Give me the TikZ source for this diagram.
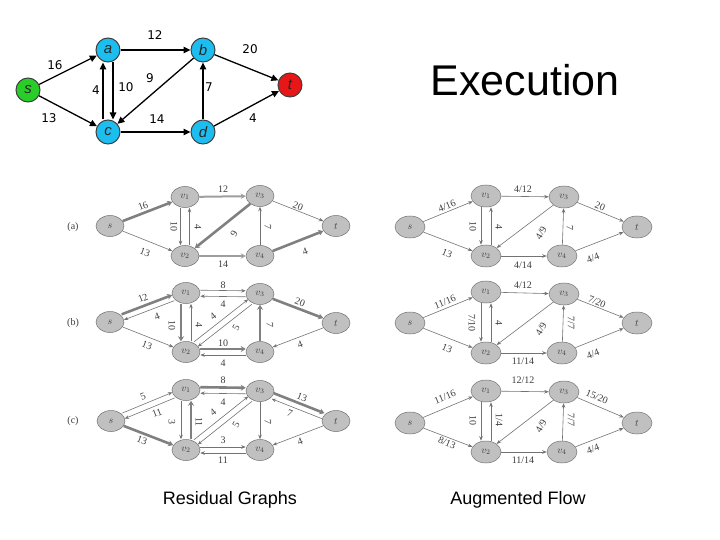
\documentclass[tikz,border=0pt]{standalone}
\usepackage{fontspec}
\setmainfont{Liberation Serif}
\newfontfamily\arialf{Liberation Sans}
\newfontfamily\dvf{DejaVu Sans}
\usetikzlibrary{arrows.meta,shapes.geometric}
\definecolor{nodeblue}{RGB}{28,190,240}
\definecolor{nodegreen}{RGB}{40,205,40}
\definecolor{nodered}{RGB}{232,22,22}
\definecolor{gfill}{RGB}{192,192,192}
\definecolor{gline}{RGB}{115,115,115}
\definecolor{gtext}{RGB}{60,60,60}
\newcount\labn
\newcommand\elab[5][0]{\global\advance\labn by 1\relax
  \edef\labname{lb\the\labn}%
  \node[#2,rotate=#1,name=\labname] at (#3,#4) {#5};}
\tikzset{
  topn/.style={circle, draw=black!75, line width=1pt, minimum size=24pt, inner sep=0pt,
    font=\arialf\itshape\fontsize{15}{15}\selectfont, text=black!85},
  tarr/.style={draw=black, line width=1.3pt, -{Triangle[length=7pt,width=6.5pt]}},
  tlab/.style={font=\dvf\fontsize{12}{12}\selectfont, inner sep=0pt},
  gn/.style={ellipse, draw=gline, line width=0.5pt, fill=gfill, minimum width=28pt,
    minimum height=21pt, inner sep=0pt, font=\fontsize{10}{10}\selectfont, text=gtext},
  rn/.style={gn, minimum width=30pt, minimum height=22pt},
  ge/.style={draw=gline, line width=0.6pt, -{Stealth[length=4.5pt,width=3.5pt]}},
  gt/.style={draw=black!50, line width=2.6pt, -{Stealth[length=5pt,width=6pt]}},
  gm/.style={draw=black!38, line width=2pt, -{Stealth[length=5pt,width=5.5pt]}},
  glab/.style={font=\fontsize{10}{10}\selectfont, text=gtext, inner sep=0pt},
  cvs/.style={transform canvas={shift={#1}}},
}
\begin{document}
\begin{tikzpicture}[x=1pt,y=-1pt]
\useasboundingbox (0,0) rectangle (720,540);

% ---------- top graph ----------
\node[topn, fill=nodegreen] (s) at (28,90) {s};
\node[topn, fill=nodeblue] (a) at (108,50) {a};
\node[topn, fill=nodeblue] (b) at (203,50) {b};
\node[topn, fill=nodeblue] (c) at (108,132) {c};
\node[topn, fill=nodeblue] (d) at (203,132) {d};
\node[topn, fill=nodered] (t) at (290,85) {t};
\draw[tarr] (s) -- (a);
\draw[tarr] (s) -- (c);
\draw[tarr] (a) -- (b);
\draw[tarr] (b) -- (t);
\draw[tarr] (c) -- (d);
\draw[tarr] (d) -- (b);
\draw[tarr] (d) -- (t);
\draw[tarr] (b) -- (c);
\draw[tarr] ([xshift=-5pt]c.north) -- ([xshift=-5pt]a.south);
\draw[tarr] ([xshift=5pt]a.south) -- ([xshift=5pt]c.north);
\elab{tlab}{155}{35}{12}
\elab{tlab}{250}{49}{20}
\elab{tlab}{55}{65}{16}
\elab{tlab}{96}{90}{4}
\elab{tlab}{126}{87}{10}
\elab{tlab}{150}{78}{9}
\elab{tlab}{209}{87}{7}
\elab{tlab}{49}{118}{13}
\elab{tlab}{157}{119}{14}
\elab{tlab}{253}{118}{4}

\node[font=\arialf\fontsize{43}{43}\selectfont] (exec) at (525,80) {Execution};
\node[font=\arialf\fontsize{18}{18}\selectfont] (resg) at (230,500) {Residual Graphs};
\node[font=\arialf\fontsize{18}{18}\selectfont] (augf) at (518,500) {Augmented Flow};

% ---------- left column: residual graphs ----------
\node[glab] (la) at (73,227) {(a)};
\node[glab] (lbb) at (73,323) {(b)};
\node[glab] (lc) at (73,421) {(c)};

% row a
\node[gn] (As) at (110,226) {$s$};
\node[gn] (Av1) at (185,197) {$v_1$};
\node[gn] (Av3) at (260,196) {$v_3$};
\node[gn] (At) at (336,226) {$t$};
\node[gn] (Av2) at (185,256) {$v_2$};
\node[gn] (Av4) at (260,256) {$v_4$};
\draw[gt] (As) -- (Av1);
\draw[ge] (As) -- (Av2);
\draw[ge,cvs={(-4.5pt,0pt)}] (Av1) -- (Av2);
\draw[ge,cvs={(4.5pt,0pt)}] (Av2) -- (Av1);
\draw[gm] (Av1) -- (Av3);
\draw[gt] (Av3) -- (Av2);
\draw[ge] (Av3) -- (At);
\draw[ge] (Av4) -- (Av3);
\draw[gm] (Av2) -- (Av4);
\draw[gt] (Av4) -- (At);
\elab[21]{glab}{143}{206}{16}
\elab[-21]{glab}{145}{252}{13}
\elab[-90]{glab}{174}{227}{10}
\elab[-90]{glab}{198}{227}{4}
\elab{glab}{223}{189}{12}
\elab[60]{glab}{234}{234}{9}
\elab[-21]{glab}{298}{206}{20}
\elab[-90]{glab}{268}{227}{7}
\elab[21]{glab}{305}{252}{4}
\elab{glab}{223}{264}{14}

% row b
\node[gn] (Bs) at (110,322) {$s$};
\node[gn] (Bv1) at (186,293) {$v_1$};
\node[gn] (Bv3) at (260,294) {$v_3$};
\node[gn] (Bt) at (336,323) {$t$};
\node[gn] (Bv2) at (186,352) {$v_2$};
\node[gn] (Bv4) at (260,352) {$v_4$};
\draw[gt,cvs={(-1.1pt,2.8pt)}] (Bs) -- (Bv1);
\draw[ge,cvs={(1.1pt,-2.8pt)}] (Bv1) -- (Bs);
\draw[ge] (Bs) -- (Bv2);
\draw[gt,cvs={(-5pt,0pt)}] (Bv1) -- (Bv2);
\draw[ge,cvs={(5pt,0pt)}] (Bv2) -- (Bv1);
\draw[ge,cvs={(0pt,3pt)}] (Bv1) -- (Bv3);
\draw[ge,cvs={(0pt,-3pt)}] (Bv3) -- (Bv1);
\draw[ge,cvs={(-1.9pt,2.4pt)}] (Bv2) -- (Bv3);
\draw[ge,cvs={(1.9pt,-2.4pt)}] (Bv3) -- (Bv2);
\draw[gt] (Bv3) -- (Bt);
\draw[gt] (Bv4) -- (Bv3);
\draw[gt,cvs={(0pt,3pt)}] (Bv2) -- (Bv4);
\draw[ge,cvs={(0pt,-3pt)}] (Bv4) -- (Bv2);
\draw[ge] (Bt) -- (Bv4);
\elab[21]{glab}{143}{298}{12}
\elab[21]{glab}{157}{317}{4}
\elab[-21]{glab}{147}{345}{13}
\elab[-90]{glab}{172}{325}{10}
\elab[-90]{glab}{199}{325}{4}
\elab{glab}{223}{285}{8}
\elab{glab}{223}{304}{4}
\elab[38]{glab}{213}{316}{4}
\elab[60]{glab}{236}{328}{5}
\elab[-21]{glab}{300}{302}{20}
\elab[-90]{glab}{270}{325}{7}
\elab{glab}{223}{343}{10}
\elab{glab}{223}{363}{4}
\elab[21]{glab}{300}{345}{4}

% row c
\node[gn] (Cs) at (111,421) {$s$};
\node[gn] (Cv1) at (186,390) {$v_1$};
\node[gn] (Cv3) at (260,391) {$v_3$};
\node[gn] (Ct) at (336,421) {$t$};
\node[gn] (Cv2) at (186,450) {$v_2$};
\node[gn] (Cv4) at (260,450) {$v_4$};
\draw[ge,cvs={(-1.1pt,2.8pt)}] (Cs) -- (Cv1);
\draw[ge,cvs={(1.1pt,-2.8pt)}] (Cv1) -- (Cs);
\draw[gt] (Cs) -- (Cv2);
\draw[ge,cvs={(-5pt,0pt)}] (Cv1) -- (Cv2);
\draw[gt,cvs={(5pt,0pt)}] (Cv2) -- (Cv1);
\draw[gt,cvs={(0pt,3pt)}] (Cv1) -- (Cv3);
\draw[ge,cvs={(0pt,-3pt)}] (Cv3) -- (Cv1);
\draw[ge,cvs={(-1.9pt,2.4pt)}] (Cv2) -- (Cv3);
\draw[ge,cvs={(1.9pt,-2.4pt)}] (Cv3) -- (Cv2);
\draw[ge] (Cv3) -- (Cv4);
\draw[gt,cvs={(1.1pt,2.8pt)}] (Cv3) -- (Ct);
\draw[ge,cvs={(-1.1pt,-2.8pt)}] (Ct) -- (Cv3);
\draw[ge,cvs={(0pt,3pt)}] (Cv2) -- (Cv4);
\draw[ge,cvs={(0pt,-3pt)}] (Cv4) -- (Cv2);
\draw[ge] (Ct) -- (Cv4);
\elab[21]{glab}{143}{397}{5}
\elab[21]{glab}{157}{413}{11}
\elab[-21]{glab}{142}{440}{13}
\elab[-90]{glab}{172}{422}{3}
\elab[-90]{glab}{199}{422}{11}
\elab{glab}{223}{380}{8}
\elab{glab}{223}{402}{4}
\elab[38]{glab}{213}{412}{4}
\elab[60]{glab}{236}{425}{5}
\elab[-90]{glab}{268}{422}{7}
\elab[-21]{glab}{302}{397}{13}
\elab[-21]{glab}{290}{413}{7}
\elab{glab}{223}{440}{3}
\elab{glab}{223}{460}{11}
\elab[21]{glab}{300}{442}{4}

% ---------- right column: augmented flow ----------
% row a
\node[rn] (Ds) at (410,227) {$s$};
\node[rn] (Dv1) at (486,196) {$v_1$};
\node[rn] (Dv3) at (564,197) {$v_3$};
\node[rn] (Dt) at (637,227) {$t$};
\node[rn] (Dv2) at (486,256) {$v_2$};
\node[rn] (Dv4) at (562,256) {$v_4$};
\draw[ge] (Ds) -- (Dv1);
\draw[ge] (Ds) -- (Dv2);
\draw[ge,cvs={(-5pt,0pt)}] (Dv1) -- (Dv2);
\draw[ge,cvs={(5pt,0pt)}] (Dv2) -- (Dv1);
\draw[ge] (Dv1) -- (Dv3);
\draw[ge] (Dv3) -- (Dv2);
\draw[ge] (Dv4) -- (Dv3);
\draw[ge] (Dv3) -- (Dt);
\draw[ge] (Dv2) -- (Dv4);
\draw[ge] (Dv4) -- (Dt);
\elab[22]{glab}{447}{206}{4/16}
\elab[-22]{glab}{447}{253}{13}
\elab[-90]{glab}{473}{227}{10}
\elab[-90]{glab}{499}{227}{4}
\elab{glab}{523}{189}{4/12}
\elab[60]{glab}{541}{233}{4/9}
\elab[-22]{glab}{600}{206}{20}
\elab[-90]{glab}{570}{228}{7}
\elab[21]{glab}{593}{258}{4/4}
\elab{glab}{523}{265}{4/14}

% row b
\node[rn] (Es) at (410,323) {$s$};
\node[rn] (Ev1) at (486,292) {$v_1$};
\node[rn] (Ev3) at (564,294) {$v_3$};
\node[rn] (Et) at (637,323) {$t$};
\node[rn] (Ev2) at (486,353) {$v_2$};
\node[rn] (Ev4) at (562,353) {$v_4$};
\draw[ge] (Es) -- (Ev1);
\draw[ge] (Es) -- (Ev2);
\draw[ge,cvs={(-5pt,0pt)}] (Ev1) -- (Ev2);
\draw[ge,cvs={(5pt,0pt)}] (Ev2) -- (Ev1);
\draw[ge] (Ev1) -- (Ev3);
\draw[ge] (Ev3) -- (Ev2);
\draw[ge] (Ev4) -- (Ev3);
\draw[ge] (Ev3) -- (Et);
\draw[ge] (Ev2) -- (Ev4);
\draw[ge] (Ev4) -- (Et);
\elab[22]{glab}{445}{302}{11/16}
\elab[-22]{glab}{447}{348}{13}
\elab[-90]{glab}{472}{323}{7/10}
\elab[-90]{glab}{499}{323}{4}
\elab{glab}{523}{285}{4/12}
\elab[60]{glab}{541}{329}{4/9}
\elab[-22]{glab}{597}{302}{7/20}
\elab[-90]{glab}{571}{323}{7/7}
\elab[21]{glab}{593}{354}{4/4}
\elab{glab}{523}{361}{11/14}

% row c
\node[rn] (Fs) at (410,423) {$s$};
\node[rn] (Fv1) at (486,391) {$v_1$};
\node[rn] (Fv3) at (564,392) {$v_3$};
\node[rn] (Ft) at (637,423) {$t$};
\node[rn] (Fv2) at (486,452) {$v_2$};
\node[rn] (Fv4) at (562,452) {$v_4$};
\draw[ge] (Fs) -- (Fv1);
\draw[ge] (Fs) -- (Fv2);
\draw[ge,cvs={(-5pt,0pt)}] (Fv1) -- (Fv2);
\draw[ge,cvs={(5pt,0pt)}] (Fv2) -- (Fv1);
\draw[ge] (Fv1) -- (Fv3);
\draw[ge] (Fv3) -- (Fv2);
\draw[ge] (Fv4) -- (Fv3);
\draw[ge] (Fv3) -- (Ft);
\draw[ge] (Fv2) -- (Fv4);
\draw[ge] (Fv4) -- (Ft);
\elab[22]{glab}{445}{397}{11/16}
\elab[-22]{glab}{447}{443}{8/13}
\elab[-90]{glab}{473}{420}{10}
\elab[-90]{glab}{499}{420}{1/4}
\elab{glab}{523}{380}{12/12}
\elab[60]{glab}{541}{426}{4/9}
\elab[-22]{glab}{597}{397}{15/20}
\elab[-90]{glab}{571}{420}{7/7}
\elab[21]{glab}{593}{449}{4/4}
\elab{glab}{523}{460}{11/14}
\end{tikzpicture}
\end{document}
